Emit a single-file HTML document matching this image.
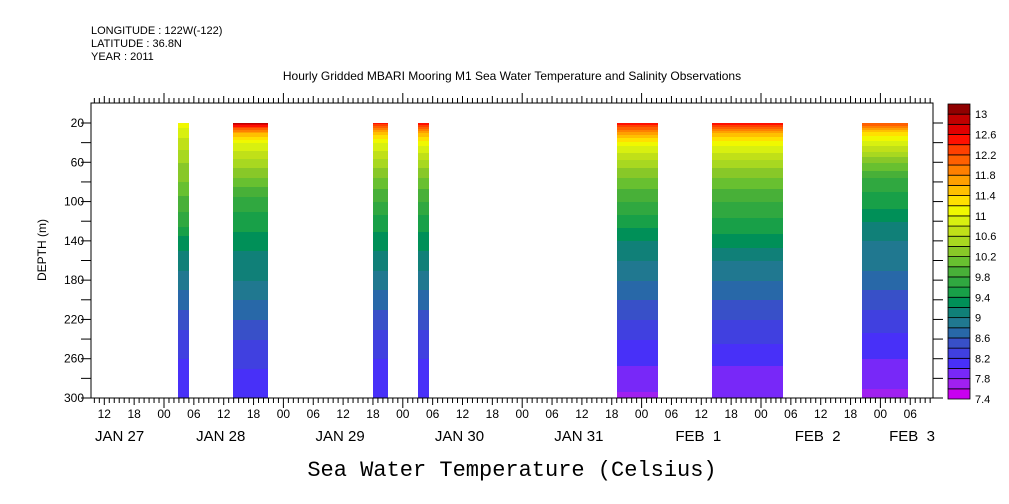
<!DOCTYPE html>
<html><head><meta charset="utf-8"><style>
body{margin:0;background:#fff}
svg{display:block;font-family:"Liberation Sans",sans-serif}
</style></head><body>
<svg id="c" width="1009" height="504" viewBox="0 0 1009 504">
<g font-size="11" fill="#000">
<text x="91" y="34">LONGITUDE : 122W(-122)</text>
<text x="91" y="47">LATITUDE : 36.8N</text>
<text x="91" y="60">YEAR : 2011</text>
</g>
<text x="512" y="80" font-size="12" text-anchor="middle">Hourly Gridded MBARI Mooring M1 Sea Water Temperature and Salinity Observations</text>
<text x="512" y="476" font-size="22" font-family="Liberation Mono,monospace" text-anchor="middle">Sea Water Temperature (Celsius)</text>
<text transform="translate(46,250) rotate(-90)" font-size="12" text-anchor="middle">DEPTH (m)</text>
<g id="data"></g>
<g id="axes"></g>
<g id="cbar"></g>
</svg>
<script>
// depth levels (m)
const depths=[20,30,40,60,80,100,120,140,160,180,200,220,240,260,280,300];
// observation blocks: start/end hours from Jan 27 00:00
const blockStart=[26.8,37.9,66,75,115,134.2,164.3];
const blockEnd=[29,45,69,77.3,123.3,148.4,173.5];
// temperature profiles per block (Celsius at depths)
const profiles=[
[11.1,10.9,10.7,10.4,10.2,9.9,9.7,9.3,9.1,8.9,8.7,8.5,8.3,8.2,8.15,8.1],
[12.8,11.6,11.0,10.5,10.1,9.7,9.5,9.3,9.1,9.0,8.8,8.6,8.4,8.25,8.15,8.05],
[12.5,11.5,11.0,10.5,10.1,9.8,9.5,9.3,9.1,8.9,8.7,8.5,8.3,8.2,8.1,8.05],
[12.6,11.6,11.1,10.5,10.1,9.8,9.5,9.3,9.1,8.9,8.7,8.5,8.3,8.2,8.1,8.05],
[12.5,11.7,11.1,10.5,10.1,9.8,9.5,9.2,9.0,8.8,8.6,8.4,8.2,8.05,7.9,7.75],
[12.6,11.6,11.1,10.5,10.1,9.8,9.55,9.3,9.0,8.8,8.6,8.4,8.25,8.05,7.9,7.8],
[12.2,11.3,10.9,10.2,9.7,9.5,9.2,9.0,8.9,8.7,8.5,8.3,8.15,8.0,7.85,7.75]
];
const levelMin=7.4, levelStep=0.2;
const palette=["#c800f0","#a020f0","#7828f8","#4830f8","#4040e0","#3850c8","#2868a8","#207890","#108078","#009058","#18a048","#30a840","#48b038","#68c030","#88c828","#a8d820","#c0e018","#d8f010","#f0f800","#ffe000","#ffc000","#ffa000","#ff8000","#ff6000","#ff4000","#ff1000","#e00000","#c00000","#900000"];
const cbLabels=["13","12.6","12.2","11.8","11.4","11","10.6","10.2","9.8","9.4","9","8.6","8.2","7.8","7.4"];
const hourTicks=["12","18","00","06","12","18","00","06","12","18","00","06","12","18","00","06","12","18","00","06","12","18","00","06","12","18","00","06"];
const dayLabels=["JAN 27","JAN 28","JAN 29","JAN 30","JAN 31","FEB  1","FEB  2","FEB  3"];
const yTicks=[20,60,100,140,180,220,260,300];

const NS="http://www.w3.org/2000/svg";
const L=91,R=933,T=103,B=398;
const xH=h=>164+(h-24)*4.975;
const yDd=d=>123+(d-20)*(B-123)/280;
function mk(tag,attrs,parent){const e=document.createElementNS(NS,tag);for(const k in attrs)e.setAttribute(k,attrs[k]);parent.appendChild(e);return e;}
function colorOf(v){let i=Math.floor((v-levelMin)/levelStep);i=Math.max(0,Math.min(palette.length-1,i));return palette[i];}
function interp(p,d){for(let i=0;i<depths.length-1;i++){if(d<=depths[i+1]){const t=(d-depths[i])/(depths[i+1]-depths[i]);return p[i]+t*(p[i+1]-p[i]);}}return p[p.length-1];}
const gD=document.getElementById('data');
for(let b=0;b<profiles.length;b++){
  const x0=Math.round(xH(blockStart[b])),x1=Math.round(xH(blockEnd[b]));
  for(let y=yDd(20);y<B;y+=1){
    const d=20+(y-yDd(20))*280/(B-yDd(20));
    const r=mk('rect',{x:x0,y:y,width:x1-x0,height:1.05,fill:colorOf(interp(profiles[b],d))},gD);
    
    
  }
}
const gA=document.getElementById('axes');
const fr=mk('rect',{x:L,y:T,width:R-L,height:B-T,fill:'none',stroke:'#000','stroke-width':1},gA);


for(let h=9;h<=178;h++){
  const x=xH(h); if(x<L||x>R)continue;
  const major=(h%24===0), mid=(h%6===0);
  const len=major?10:(mid?7:5);
  mk('line',{x1:x,x2:x,y1:T,y2:T-len,stroke:'#000'},gA);
  mk('line',{x1:x,x2:x,y1:B,y2:B+len,stroke:'#000'},gA);
}
for(let i=0;i<hourTicks.length;i++){
  const h=12+i*6;
  const t=mk('text',{x:xH(h),y:418,'font-size':12,'text-anchor':'middle'},gA);
  t.textContent=hourTicks[i];
  
  
}
for(let i=0;i<dayLabels.length;i++){
  let x=xH(i*24+12)-3, anchor='middle';
  if(i===0){x=95;anchor='start';}
  if(i===dayLabels.length-1){x=935;anchor='end';}
  const t=mk('text',{x:x,y:441,'font-size':15,'text-anchor':anchor},gA);
  t.setAttribute('style','white-space:pre');
  t.textContent=dayLabels[i];
  
  
}
for(let d=20;d<=300;d+=20){
  const y=yDd(d);
  mk('line',{x1:L,x2:L-10,y1:y,y2:y,stroke:'#000'},gA);
  mk('line',{x1:R,x2:R+10,y1:y,y2:y,stroke:'#000'},gA);
}
for(const d of yTicks){
  const t=mk('text',{x:84,y:yDd(d)+4,'font-size':12,'text-anchor':'end'},gA);
  t.textContent=String(d);
  
  
}
const gC=document.getElementById('cbar');
const cbTop=104,cbBot=399,n=palette.length,bh=(cbBot-cbTop)/n;
for(let i=0;i<n;i++){
  const r=mk('rect',{x:948,y:cbBot-(i+1)*bh,width:22,height:bh,fill:palette[i],stroke:'#000','stroke-width':0.8},gC);
  
  
}
for(let i=0;i<cbLabels.length;i++){
  const v=parseFloat(cbLabels[i]);
  const y=cbBot-(v-levelMin)/levelStep*bh;
  const t=mk('text',{x:975,y:y+4,'font-size':11},gC);
  t.textContent=cbLabels[i];
  
  
}
</script>
</body></html>
